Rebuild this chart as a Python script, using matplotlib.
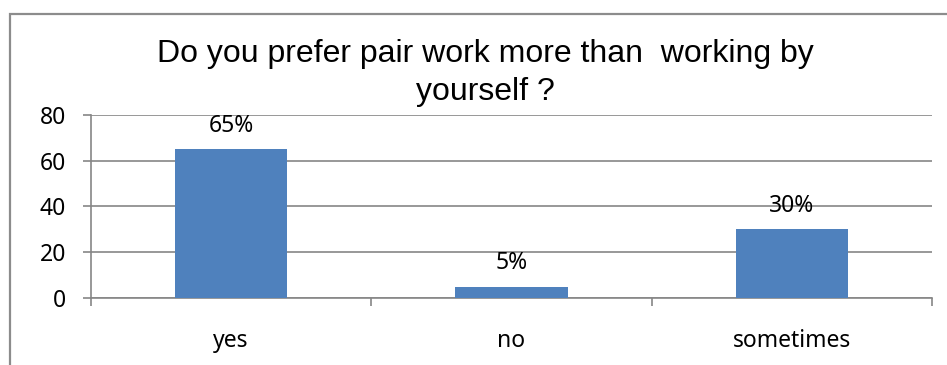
from matplotlib import pyplot as plt
from matplotlib.patches import Rectangle

answers = ["yes", "no", "sometimes"]
percent = [65, 5, 30]
value_labels = ["65%", "5%", "30%"]
y_ticks = [0, 20, 40, 60, 80]

W, H = 947, 365
fig = plt.figure(figsize=(W / 100, H / 100), dpi=100)

# outer chart frame (only top and left edges fall inside the image)
fig.patches.append(Rectangle((10 / W, -0.1), 1.2, 1.1 - 14 / H,
                             transform=fig.transFigure, fill=False,
                             edgecolor="#8c8c8c", linewidth=1.6))

ax = fig.add_axes([91 / W, (H - 298) / H, (932 - 91) / W, (298 - 115) / H])
label_font = "Noto Sans"
label_size = 16.5
grey = "#868686"

x = list(range(len(answers)))
ax.bar(x, percent, width=0.4, color="#4f81bd", zorder=3)
for xi, v, lab in zip(x, percent, value_labels):
    ax.annotate(lab, (xi, v), xytext=(0, 8.5), textcoords="offset points",
                ha="center", va="bottom", fontsize=label_size, family=label_font)

ax.set_xlim(-0.5, 2.5)
ax.set_ylim(0, 80)
ax.set_yticks(y_ticks)
ax.set_xticks(x)
ax.set_xticklabels(answers)
ax.set_xticks([-0.5, 0.5, 1.5, 2.5], minor=True)
ax.tick_params(axis="x", which="major", length=0, pad=22)
ax.tick_params(axis="x", which="minor", length=6, color=grey, width=1.2)
ax.tick_params(axis="y", length=6, color=grey, width=1.2, pad=12)
for t in ax.get_xticklabels() + ax.get_yticklabels():
    t.set_fontfamily(label_font)
    t.set_fontsize(label_size)

ax.grid(axis="y", color=grey, linewidth=1.2, zorder=0)
for side in ["top", "right"]:
    ax.spines[side].set_visible(False)
for side in ["left", "bottom"]:
    ax.spines[side].set_color(grey)
    ax.spines[side].set_linewidth(1.2)

fig.text(485 / W, 1 - 73 / H, "Do you prefer pair work more than  working by\nyourself ?",
         ha="center", va="center", fontsize=23, family="Liberation Sans",
         linespacing=1.35)

plt.savefig("out.png", dpi=100)
